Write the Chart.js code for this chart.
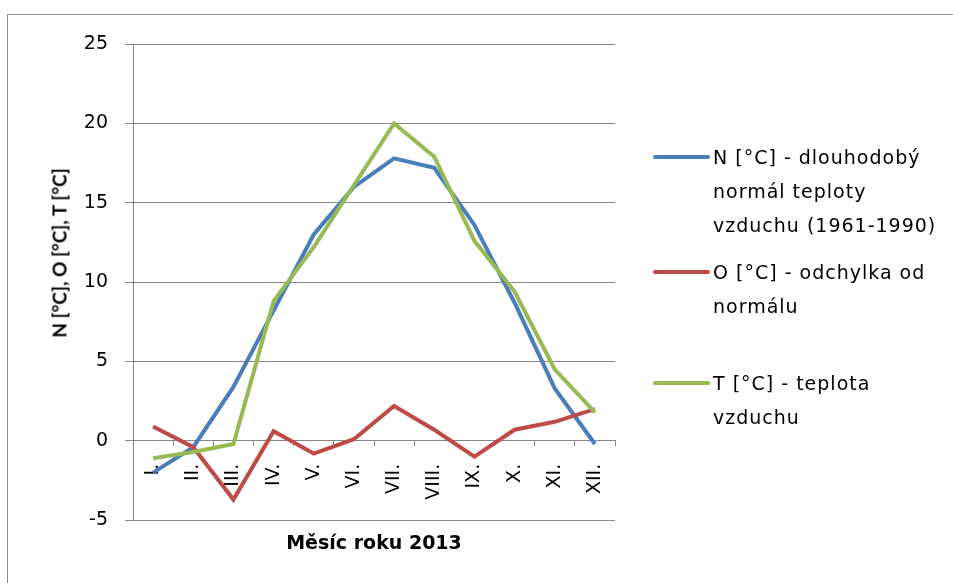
<!DOCTYPE html>
<html>
<head>
<meta charset="utf-8">
<script src="https://cdn.jsdelivr.net/npm/chart.js@4.4.1/dist/chart.umd.min.js"></script>
<style>
  body{margin:0;background:#fff;font-family:"DejaVu Sans",sans-serif;color:#000}
  #wrap{position:relative;width:953px;height:583px;overflow:hidden}
  #frame{position:absolute;left:7px;top:14px;width:960px;height:600px;border-top:1.5px solid #8c8c8c;border-left:1.5px solid #8c8c8c}
  canvas{position:absolute;left:0;top:0}
  #ytitle{position:absolute;left:59px;top:253px;transform:translate(-50%,-50%) rotate(-90deg);font-family:Lato,sans-serif;font-weight:bold;font-size:19px;white-space:nowrap}
  .leg{position:absolute;left:653px;font-size:19px;line-height:34px;letter-spacing:1px}
  .leg i{position:absolute;left:0;top:15px;width:57px;height:4px;border-radius:2px}
  .leg span{display:block;margin-left:60px;white-space:nowrap}
</style>
</head>
<body>
<div id="wrap">
  <div id="frame"></div>
  <canvas id="chart" width="953" height="583"></canvas>
  <div id="ytitle">N [°C], O [°C], T [°C]</div>
  <div id="legend"></div>
</div>
<script>
// data
const months=['I.','II.','III.','IV.','V.','VI.','VII.','VIII.','IX.','X.','XI.','XII.'];
const normal=[-2.0,-0.4,3.4,8.2,13.0,16.0,17.8,17.2,13.6,8.7,3.3,-0.2];
const deviation=[0.9,-0.4,-3.7,0.6,-0.8,0.1,2.2,0.7,-1.0,0.7,1.2,2.0];
const temperature=[-1.1,-0.7,-0.2,8.8,12.2,16.1,20.0,17.9,12.6,9.4,4.5,1.8];
const yTicks=[-5,0,5,10,15,20,25];
const seriesNames=[
  ['N [°C] - dlouhodobý','normál teploty','vzduchu (1961-1990)'],
  ['O [°C] - odchylka od','normálu'],
  ['T [°C] - teplota','vzduchu']
];
const colors=['#4a7ebb','#be4b48','#98b954'];
const legendTops=[140,255,366];

const axisGrey='#868686';
const font={family:'DejaVu Sans',size:19};

const ctx=document.getElementById('chart').getContext('2d');
const series=[normal,deviation,temperature];
new Chart(ctx,{
  type:'line',
  data:{labels:months,datasets:series.map((d,i)=>({
    label:seriesNames[i].join(' '),data:d,borderColor:colors[i],backgroundColor:colors[i],
    borderWidth:4,pointRadius:0,tension:0,order:3-i
  }))},
  options:{
    responsive:false,animation:false,
    layout:{padding:{top:44,right:338,left:0,bottom:0}},
    plugins:{
      legend:{display:false},tooltip:{enabled:false},
      title:{display:true,position:'bottom',fullSize:false,text:'Měsíc roku 2013',color:'#000',
        font:{family:'DejaVu Sans',size:19,weight:'bold'},padding:{top:12,bottom:28}}
    },
    scales:{
      x:{position:{y:0},offset:true,
        grid:{drawOnChartArea:false,offset:true,tickLength:5,color:axisGrey},
        border:{color:axisGrey},
        ticks:{autoSkip:false,minRotation:90,maxRotation:90,padding:18,color:'#000',font}},
      y:{min:-5,max:25,
        afterFit:s=>{s.width=133;},
        afterBuildTicks:s=>{s.ticks=yTicks.map(v=>({value:v}));},
        grid:{color:axisGrey,tickLength:8},
        border:{color:axisGrey},
        ticks:{padding:17,color:'#000',font}}
    }
  }
});

// legend with wrapped names, as in the original
const leg=document.getElementById('legend');
seriesNames.forEach((lines,i)=>{
  const d=document.createElement('div');
  d.className='leg';d.style.top=legendTops[i]+'px';
  d.innerHTML='<i style="background:'+colors[i]+'"></i>'+lines.map(t=>'<span>'+t+'</span>').join('');
  leg.appendChild(d);
});
</script>
</body>
</html>
